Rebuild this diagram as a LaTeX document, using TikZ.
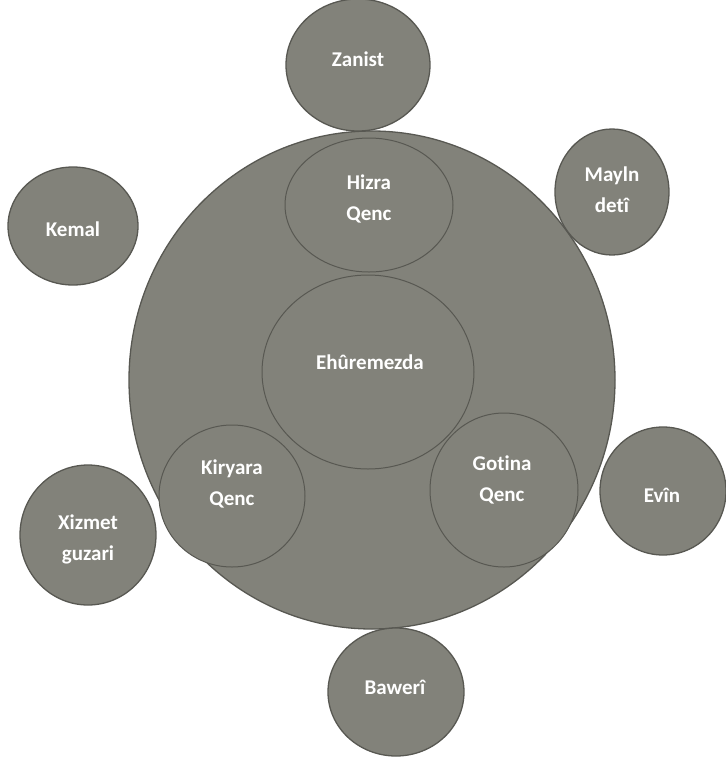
\documentclass[tikz,border=0pt]{standalone}
\usepackage{fontspec}
\setmainfont{Carlito}[Ligatures=NoCommon]
\usetikzlibrary{shapes.geometric}
\definecolor{fillg}{RGB}{130,130,122}
\definecolor{lineg}{RGB}{88,88,82}
\begin{document}
\begin{tikzpicture}[x=1pt,y=-1pt,
  blob/.style={ellipse,draw=lineg,line width=1.3pt,fill=fillg,inner sep=0pt},
  innerc/.style={ellipse,draw=lineg,line width=1pt,fill=fillg,inner sep=0pt},
  lbl/.style={text=white,font=\bfseries\fontsize{21}{31}\selectfont,align=center}]
\useasboundingbox (0,0) rectangle (726,769);
% big circle
\node[blob, minimum width=486pt, minimum height=498pt] (big) at (372,380) {};
% outer circles
\node[blob, minimum width=144pt, minimum height=132pt] (cz) at (358,65) {};
\node[blob, minimum width=114pt, minimum height=126pt] (cm) at (612,192) {};
\node[blob, minimum width=130pt, minimum height=118pt] (ck) at (73,226) {};
\node[blob, minimum width=126pt, minimum height=128pt] (ce) at (663,491) {};
\node[blob, minimum width=136pt, minimum height=140pt] (cx) at (88,535) {};
\node[blob, minimum width=136pt, minimum height=128pt] (cb) at (396,692) {};
% inner circles
\node[innerc, minimum width=168pt, minimum height=134pt] (ch) at (369,205) {};
\node[innerc, minimum width=212pt, minimum height=194pt] (cu) at (368,372) {};
\node[innerc, minimum width=146pt, minimum height=142pt] (cr) at (232,496) {};
\node[innerc, minimum width=148pt, minimum height=154pt] (cg) at (504,490) {};
% labels
\node[lbl] (zanist) at (358,59) {Zanist};
\node[lbl] (mayln) at (612,190) {Mayln\\detî};
\node[lbl] (kemal) at (73,229) {Kemal};
\node[lbl] (evin) at (662,495) {Evîn};
\node[lbl] (xizmet) at (88,539) {Xizmet\\guzari};
\node[lbl] (baweri) at (395,687) {Bawerî};
\node[lbl] (hizra) at (369,199) {Hizra\\Qenc};
\node[lbl] (ehure) at (370,362) {Ehûremezda};
\node[lbl] (kiryara) at (232,484) {Kiryara\\Qenc};
\node[lbl] (gotina) at (502,480) {Gotina\\Qenc};
\end{tikzpicture}
\end{document}
